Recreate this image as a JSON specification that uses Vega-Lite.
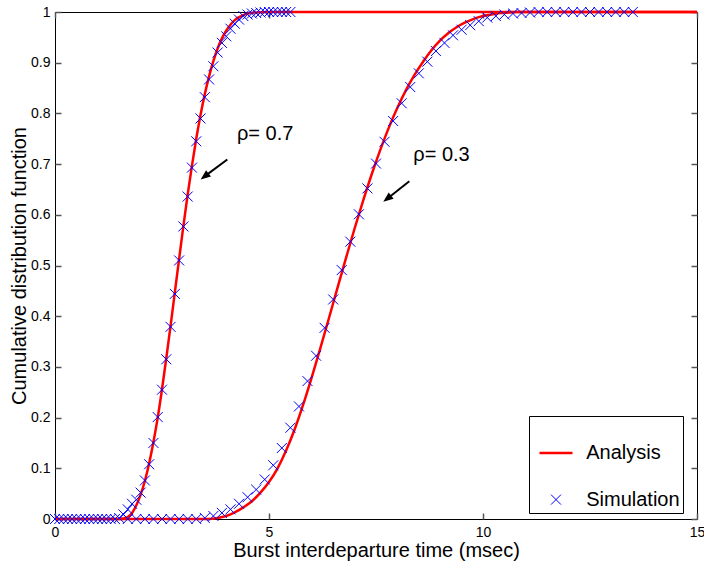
{
  "$schema": "https://vega.github.io/schema/vega-lite/v6.json",
  "width": 642,
  "height": 507,
  "autosize": {"type": "none"},
  "padding": {"left": 55, "top": 12, "right": 7, "bottom": 48},
  "config": {
    "font": "Liberation Sans",
    "view": {"stroke": "black", "strokeWidth": 1},
    "axis": {
      "grid": false,
      "domain": false,
      "tickColor": "#555555",
      "tickSize": 6,
      "offset": -6,
      "tickWidth": 1.5,
      "labelFlush": false,
      "labelColor": "black",
      "titleColor": "black",
      "labelFontSize": 14,
      "titleFontSize": 20,
      "titleFontWeight": "normal",
      "labelFont": "Liberation Sans",
      "titleFont": "Liberation Sans"
    }
  },
  "datasets": {
    "curves": [
      {"kind": "Analysis", "rho": "0.7", "x": 0, "y": 0},
      {"kind": "Analysis", "rho": "0.7", "x": 1.5, "y": 0},
      {"kind": "Analysis", "rho": "0.7", "x": 1.6, "y": 0.001},
      {"kind": "Analysis", "rho": "0.7", "x": 1.7, "y": 0.004},
      {"kind": "Analysis", "rho": "0.7", "x": 1.8, "y": 0.012},
      {"kind": "Analysis", "rho": "0.7", "x": 1.9, "y": 0.027},
      {"kind": "Analysis", "rho": "0.7", "x": 2.0, "y": 0.048},
      {"kind": "Analysis", "rho": "0.7", "x": 2.1, "y": 0.075},
      {"kind": "Analysis", "rho": "0.7", "x": 2.2, "y": 0.11},
      {"kind": "Analysis", "rho": "0.7", "x": 2.3, "y": 0.152},
      {"kind": "Analysis", "rho": "0.7", "x": 2.4, "y": 0.2},
      {"kind": "Analysis", "rho": "0.7", "x": 2.5, "y": 0.256},
      {"kind": "Analysis", "rho": "0.7", "x": 2.6, "y": 0.317},
      {"kind": "Analysis", "rho": "0.7", "x": 2.7, "y": 0.381},
      {"kind": "Analysis", "rho": "0.7", "x": 2.8, "y": 0.447},
      {"kind": "Analysis", "rho": "0.7", "x": 2.9, "y": 0.513},
      {"kind": "Analysis", "rho": "0.7", "x": 3.0, "y": 0.578},
      {"kind": "Analysis", "rho": "0.7", "x": 3.1, "y": 0.64},
      {"kind": "Analysis", "rho": "0.7", "x": 3.2, "y": 0.697},
      {"kind": "Analysis", "rho": "0.7", "x": 3.3, "y": 0.75},
      {"kind": "Analysis", "rho": "0.7", "x": 3.4, "y": 0.797},
      {"kind": "Analysis", "rho": "0.7", "x": 3.5, "y": 0.838},
      {"kind": "Analysis", "rho": "0.7", "x": 3.6, "y": 0.873},
      {"kind": "Analysis", "rho": "0.7", "x": 3.7, "y": 0.903},
      {"kind": "Analysis", "rho": "0.7", "x": 3.8, "y": 0.928},
      {"kind": "Analysis", "rho": "0.7", "x": 3.9, "y": 0.948},
      {"kind": "Analysis", "rho": "0.7", "x": 4.0, "y": 0.963},
      {"kind": "Analysis", "rho": "0.7", "x": 4.1, "y": 0.975},
      {"kind": "Analysis", "rho": "0.7", "x": 4.2, "y": 0.984},
      {"kind": "Analysis", "rho": "0.7", "x": 4.3, "y": 0.99},
      {"kind": "Analysis", "rho": "0.7", "x": 4.4, "y": 0.994},
      {"kind": "Analysis", "rho": "0.7", "x": 4.5, "y": 0.997},
      {"kind": "Analysis", "rho": "0.7", "x": 4.7, "y": 0.999},
      {"kind": "Analysis", "rho": "0.7", "x": 5.0, "y": 1},
      {"kind": "Analysis", "rho": "0.7", "x": 15, "y": 1},

      {"kind": "Analysis", "rho": "0.3", "x": 0, "y": 0},
      {"kind": "Analysis", "rho": "0.3", "x": 3.6, "y": 0},
      {"kind": "Analysis", "rho": "0.3", "x": 3.8, "y": 0.002},
      {"kind": "Analysis", "rho": "0.3", "x": 4.0, "y": 0.006},
      {"kind": "Analysis", "rho": "0.3", "x": 4.2, "y": 0.013},
      {"kind": "Analysis", "rho": "0.3", "x": 4.4, "y": 0.023},
      {"kind": "Analysis", "rho": "0.3", "x": 4.6, "y": 0.035},
      {"kind": "Analysis", "rho": "0.3", "x": 4.8, "y": 0.052},
      {"kind": "Analysis", "rho": "0.3", "x": 5.0, "y": 0.073},
      {"kind": "Analysis", "rho": "0.3", "x": 5.2, "y": 0.1},
      {"kind": "Analysis", "rho": "0.3", "x": 5.4, "y": 0.135},
      {"kind": "Analysis", "rho": "0.3", "x": 5.6, "y": 0.177},
      {"kind": "Analysis", "rho": "0.3", "x": 5.8, "y": 0.226},
      {"kind": "Analysis", "rho": "0.3", "x": 6.0, "y": 0.28},
      {"kind": "Analysis", "rho": "0.3", "x": 6.2, "y": 0.337},
      {"kind": "Analysis", "rho": "0.3", "x": 6.4, "y": 0.396},
      {"kind": "Analysis", "rho": "0.3", "x": 6.6, "y": 0.456},
      {"kind": "Analysis", "rho": "0.3", "x": 6.8, "y": 0.515},
      {"kind": "Analysis", "rho": "0.3", "x": 7.0, "y": 0.573},
      {"kind": "Analysis", "rho": "0.3", "x": 7.2, "y": 0.628},
      {"kind": "Analysis", "rho": "0.3", "x": 7.4, "y": 0.68},
      {"kind": "Analysis", "rho": "0.3", "x": 7.6, "y": 0.728},
      {"kind": "Analysis", "rho": "0.3", "x": 7.8, "y": 0.772},
      {"kind": "Analysis", "rho": "0.3", "x": 8.0, "y": 0.811},
      {"kind": "Analysis", "rho": "0.3", "x": 8.2, "y": 0.846},
      {"kind": "Analysis", "rho": "0.3", "x": 8.4, "y": 0.876},
      {"kind": "Analysis", "rho": "0.3", "x": 8.6, "y": 0.902},
      {"kind": "Analysis", "rho": "0.3", "x": 8.8, "y": 0.925},
      {"kind": "Analysis", "rho": "0.3", "x": 9.0, "y": 0.944},
      {"kind": "Analysis", "rho": "0.3", "x": 9.2, "y": 0.959},
      {"kind": "Analysis", "rho": "0.3", "x": 9.4, "y": 0.971},
      {"kind": "Analysis", "rho": "0.3", "x": 9.6, "y": 0.98},
      {"kind": "Analysis", "rho": "0.3", "x": 9.8, "y": 0.987},
      {"kind": "Analysis", "rho": "0.3", "x": 10.0, "y": 0.992},
      {"kind": "Analysis", "rho": "0.3", "x": 10.2, "y": 0.995},
      {"kind": "Analysis", "rho": "0.3", "x": 10.4, "y": 0.998},
      {"kind": "Analysis", "rho": "0.3", "x": 10.6, "y": 0.999},
      {"kind": "Analysis", "rho": "0.3", "x": 10.8, "y": 1},
      {"kind": "Analysis", "rho": "0.3", "x": 15, "y": 1},

      {"kind": "Simulation", "rho": "0.7", "x": 0.0, "y": 0},
      {"kind": "Simulation", "rho": "0.7", "x": 0.1, "y": 0},
      {"kind": "Simulation", "rho": "0.7", "x": 0.2, "y": 0},
      {"kind": "Simulation", "rho": "0.7", "x": 0.3, "y": 0},
      {"kind": "Simulation", "rho": "0.7", "x": 0.4, "y": 0},
      {"kind": "Simulation", "rho": "0.7", "x": 0.5, "y": 0},
      {"kind": "Simulation", "rho": "0.7", "x": 0.6, "y": 0},
      {"kind": "Simulation", "rho": "0.7", "x": 0.7, "y": 0},
      {"kind": "Simulation", "rho": "0.7", "x": 0.8, "y": 0},
      {"kind": "Simulation", "rho": "0.7", "x": 0.9, "y": 0},
      {"kind": "Simulation", "rho": "0.7", "x": 1.0, "y": 0},
      {"kind": "Simulation", "rho": "0.7", "x": 1.1, "y": 0},
      {"kind": "Simulation", "rho": "0.7", "x": 1.2, "y": 0},
      {"kind": "Simulation", "rho": "0.7", "x": 1.3, "y": 0},
      {"kind": "Simulation", "rho": "0.7", "x": 1.4, "y": 0},
      {"kind": "Simulation", "rho": "0.7", "x": 1.5, "y": 0.002},
      {"kind": "Simulation", "rho": "0.7", "x": 1.6, "y": 0.009},
      {"kind": "Simulation", "rho": "0.7", "x": 1.7, "y": 0.019},
      {"kind": "Simulation", "rho": "0.7", "x": 1.8, "y": 0.03},
      {"kind": "Simulation", "rho": "0.7", "x": 1.9, "y": 0.038},
      {"kind": "Simulation", "rho": "0.7", "x": 2.0, "y": 0.052},
      {"kind": "Simulation", "rho": "0.7", "x": 2.1, "y": 0.076},
      {"kind": "Simulation", "rho": "0.7", "x": 2.2, "y": 0.108},
      {"kind": "Simulation", "rho": "0.7", "x": 2.3, "y": 0.15},
      {"kind": "Simulation", "rho": "0.7", "x": 2.4, "y": 0.201},
      {"kind": "Simulation", "rho": "0.7", "x": 2.5, "y": 0.255},
      {"kind": "Simulation", "rho": "0.7", "x": 2.6, "y": 0.315},
      {"kind": "Simulation", "rho": "0.7", "x": 2.7, "y": 0.379},
      {"kind": "Simulation", "rho": "0.7", "x": 2.8, "y": 0.444},
      {"kind": "Simulation", "rho": "0.7", "x": 2.9, "y": 0.51},
      {"kind": "Simulation", "rho": "0.7", "x": 3.0, "y": 0.577},
      {"kind": "Simulation", "rho": "0.7", "x": 3.1, "y": 0.636},
      {"kind": "Simulation", "rho": "0.7", "x": 3.2, "y": 0.693},
      {"kind": "Simulation", "rho": "0.7", "x": 3.3, "y": 0.745},
      {"kind": "Simulation", "rho": "0.7", "x": 3.4, "y": 0.79},
      {"kind": "Simulation", "rho": "0.7", "x": 3.5, "y": 0.832},
      {"kind": "Simulation", "rho": "0.7", "x": 3.6, "y": 0.867},
      {"kind": "Simulation", "rho": "0.7", "x": 3.7, "y": 0.893},
      {"kind": "Simulation", "rho": "0.7", "x": 3.8, "y": 0.92},
      {"kind": "Simulation", "rho": "0.7", "x": 3.9, "y": 0.939},
      {"kind": "Simulation", "rho": "0.7", "x": 4.0, "y": 0.952},
      {"kind": "Simulation", "rho": "0.7", "x": 4.1, "y": 0.967},
      {"kind": "Simulation", "rho": "0.7", "x": 4.2, "y": 0.977},
      {"kind": "Simulation", "rho": "0.7", "x": 4.3, "y": 0.985},
      {"kind": "Simulation", "rho": "0.7", "x": 4.4, "y": 0.992},
      {"kind": "Simulation", "rho": "0.7", "x": 4.5, "y": 0.995},
      {"kind": "Simulation", "rho": "0.7", "x": 4.6, "y": 0.997},
      {"kind": "Simulation", "rho": "0.7", "x": 4.7, "y": 0.998},
      {"kind": "Simulation", "rho": "0.7", "x": 4.8, "y": 0.999},
      {"kind": "Simulation", "rho": "0.7", "x": 4.9, "y": 1},
      {"kind": "Simulation", "rho": "0.7", "x": 5.0, "y": 1},
      {"kind": "Simulation", "rho": "0.7", "x": 5.1, "y": 1},
      {"kind": "Simulation", "rho": "0.7", "x": 5.2, "y": 1},
      {"kind": "Simulation", "rho": "0.7", "x": 5.3, "y": 1},
      {"kind": "Simulation", "rho": "0.7", "x": 5.4, "y": 1},
      {"kind": "Simulation", "rho": "0.7", "x": 5.5, "y": 1},

      {"kind": "Simulation", "rho": "0.3", "x": 1.7, "y": 0},
      {"kind": "Simulation", "rho": "0.3", "x": 1.9, "y": 0},
      {"kind": "Simulation", "rho": "0.3", "x": 2.1, "y": 0},
      {"kind": "Simulation", "rho": "0.3", "x": 2.3, "y": 0},
      {"kind": "Simulation", "rho": "0.3", "x": 2.5, "y": 0},
      {"kind": "Simulation", "rho": "0.3", "x": 2.7, "y": 0},
      {"kind": "Simulation", "rho": "0.3", "x": 2.9, "y": 0},
      {"kind": "Simulation", "rho": "0.3", "x": 3.1, "y": 0},
      {"kind": "Simulation", "rho": "0.3", "x": 3.3, "y": 0},
      {"kind": "Simulation", "rho": "0.3", "x": 3.5, "y": 0.002},
      {"kind": "Simulation", "rho": "0.3", "x": 3.7, "y": 0.006},
      {"kind": "Simulation", "rho": "0.3", "x": 3.9, "y": 0.012},
      {"kind": "Simulation", "rho": "0.3", "x": 4.1, "y": 0.019},
      {"kind": "Simulation", "rho": "0.3", "x": 4.3, "y": 0.03},
      {"kind": "Simulation", "rho": "0.3", "x": 4.5, "y": 0.043},
      {"kind": "Simulation", "rho": "0.3", "x": 4.7, "y": 0.058},
      {"kind": "Simulation", "rho": "0.3", "x": 4.9, "y": 0.078},
      {"kind": "Simulation", "rho": "0.3", "x": 5.1, "y": 0.106},
      {"kind": "Simulation", "rho": "0.3", "x": 5.3, "y": 0.14},
      {"kind": "Simulation", "rho": "0.3", "x": 5.5, "y": 0.18},
      {"kind": "Simulation", "rho": "0.3", "x": 5.7, "y": 0.222},
      {"kind": "Simulation", "rho": "0.3", "x": 5.9, "y": 0.272},
      {"kind": "Simulation", "rho": "0.3", "x": 6.1, "y": 0.322},
      {"kind": "Simulation", "rho": "0.3", "x": 6.3, "y": 0.377},
      {"kind": "Simulation", "rho": "0.3", "x": 6.5, "y": 0.433},
      {"kind": "Simulation", "rho": "0.3", "x": 6.7, "y": 0.491},
      {"kind": "Simulation", "rho": "0.3", "x": 6.9, "y": 0.547},
      {"kind": "Simulation", "rho": "0.3", "x": 7.1, "y": 0.601},
      {"kind": "Simulation", "rho": "0.3", "x": 7.3, "y": 0.652},
      {"kind": "Simulation", "rho": "0.3", "x": 7.5, "y": 0.701},
      {"kind": "Simulation", "rho": "0.3", "x": 7.7, "y": 0.744},
      {"kind": "Simulation", "rho": "0.3", "x": 7.9, "y": 0.785},
      {"kind": "Simulation", "rho": "0.3", "x": 8.1, "y": 0.82},
      {"kind": "Simulation", "rho": "0.3", "x": 8.3, "y": 0.852},
      {"kind": "Simulation", "rho": "0.3", "x": 8.5, "y": 0.879},
      {"kind": "Simulation", "rho": "0.3", "x": 8.7, "y": 0.902},
      {"kind": "Simulation", "rho": "0.3", "x": 8.9, "y": 0.923},
      {"kind": "Simulation", "rho": "0.3", "x": 9.1, "y": 0.939},
      {"kind": "Simulation", "rho": "0.3", "x": 9.3, "y": 0.954},
      {"kind": "Simulation", "rho": "0.3", "x": 9.5, "y": 0.965},
      {"kind": "Simulation", "rho": "0.3", "x": 9.7, "y": 0.974},
      {"kind": "Simulation", "rho": "0.3", "x": 9.9, "y": 0.982},
      {"kind": "Simulation", "rho": "0.3", "x": 10.1, "y": 0.989},
      {"kind": "Simulation", "rho": "0.3", "x": 10.3, "y": 0.992},
      {"kind": "Simulation", "rho": "0.3", "x": 10.5, "y": 0.995},
      {"kind": "Simulation", "rho": "0.3", "x": 10.7, "y": 0.997},
      {"kind": "Simulation", "rho": "0.3", "x": 10.9, "y": 0.998},
      {"kind": "Simulation", "rho": "0.3", "x": 11.1, "y": 0.999},
      {"kind": "Simulation", "rho": "0.3", "x": 11.3, "y": 1},
      {"kind": "Simulation", "rho": "0.3", "x": 11.5, "y": 1},
      {"kind": "Simulation", "rho": "0.3", "x": 11.7, "y": 1},
      {"kind": "Simulation", "rho": "0.3", "x": 11.9, "y": 1},
      {"kind": "Simulation", "rho": "0.3", "x": 12.1, "y": 1},
      {"kind": "Simulation", "rho": "0.3", "x": 12.3, "y": 1},
      {"kind": "Simulation", "rho": "0.3", "x": 12.5, "y": 1},
      {"kind": "Simulation", "rho": "0.3", "x": 12.7, "y": 1},
      {"kind": "Simulation", "rho": "0.3", "x": 12.9, "y": 1},
      {"kind": "Simulation", "rho": "0.3", "x": 13.1, "y": 1},
      {"kind": "Simulation", "rho": "0.3", "x": 13.3, "y": 1},
      {"kind": "Simulation", "rho": "0.3", "x": 13.5, "y": 1}
    ],
    "notes": [
      {"x": 4.252, "y": 0.747, "text": "ρ= 0.7"},
      {"x": 8.372, "y": 0.7057, "text": "ρ= 0.3"}
    ],
    "arrows": [
      {"x": 4.026, "y": 0.709, "x2": 3.495, "y2": 0.6757},
      {"x": 8.278, "y": 0.6663, "x2": 7.762, "y2": 0.6318}
    ]
  },
  "resolve": {"axis": {"x": "independent", "y": "independent"}},
  "layer": [
    {
      "data": {"name": "curves"},
      "transform": [{"filter": "datum.kind === 'Analysis'"}],
      "mark": {"type": "line", "strokeWidth": 2.5, "interpolate": "monotone"},
      "encoding": {
        "x": {
          "field": "x", "type": "quantitative",
          "scale": {"domain": [0, 15], "nice": false, "zero": false},
          "axis": {"orient": "bottom", "values": [0, 5, 10, 15], "title": "Burst interdeparture time (msec)", "labelPadding": 6, "titlePadding": 1}
        },
        "y": {
          "field": "y", "type": "quantitative",
          "scale": {"domain": [0, 1], "nice": false},
          "axis": {"orient": "left", "values": [0, 0.1, 0.2, 0.3, 0.4, 0.5, 0.6, 0.7, 0.8, 0.9, 1], "format": "~g", "title": "Cumulative distribution function", "labelPadding": 5, "titlePadding": 1}
        },
        "color": {
          "field": "kind", "type": "nominal",
          "scale": {"domain": ["Analysis", "Simulation"], "range": ["#ff0000", "#0000ff"]},
          "legend": {
            "orient": "none",
            "legendX": 474,
            "legendY": 404,
            "title": " ",
            "titleFontSize": 14,
            "titlePadding": 10,
            "strokeColor": "black",
            "fillColor": "white",
            "padding": 3,
            "labelFontSize": 20,
            "labelFont": "Liberation Sans",
            "labelColor": "black",
            "symbolSize": 100,
            "symbolOffset": 14,
            "labelOffset": 20.2,
            "rowPadding": 26.6,
            "labelExpr": "datum.label + '\u2002\u2002'",
            "encode": {
              "symbols": {
                "update": {
                  "shape": {"signal": "datum.value === 'Analysis' ? 'M-3.3,0L3.3,0' : 'M-1,-1L1,1M-1,1L1,-1'"},
                  "strokeWidth": {"signal": "datum.value === 'Analysis' ? 2.5 : 1"},
                  "stroke": {"signal": "datum.value === 'Analysis' ? '#ff0000' : '#0000ff'"},
                  "fill": {"value": "transparent"},
                  "opacity": {"value": 1},
                  "size": {"value": 100}
                }
              }
            }
          }
        },
        "detail": {"field": "rho"}
      }
    },
    {
      "data": {"name": "curves"},
      "transform": [{"filter": "datum.kind === 'Simulation'"}],
      "mark": {"type": "point", "shape": "M-1,-1L1,1M-1,1L1,-1", "size": 100, "filled": false, "strokeWidth": 1, "opacity": 1},
      "encoding": {
        "x": {"field": "x", "type": "quantitative", "axis": {"orient": "top", "values": [0, 5, 10, 15], "labels": false, "title": null}},
        "y": {"field": "y", "type": "quantitative", "axis": {"orient": "right", "values": [0, 0.1, 0.2, 0.3, 0.4, 0.5, 0.6, 0.7, 0.8, 0.9, 1], "labels": false, "title": null}},
        "color": {"field": "kind", "type": "nominal"},
        "detail": {"field": "rho"}
      }
    },
    {
      "data": {"name": "arrows"},
      "mark": {"type": "rule", "strokeWidth": 2, "color": "black"},
      "encoding": {
        "x": {"field": "x", "type": "quantitative", "axis": null},
        "y": {"field": "y", "type": "quantitative", "axis": null},
        "x2": {"field": "x2"},
        "y2": {"field": "y2"}
      }
    },
    {
      "data": {"name": "arrows"},
      "mark": {"type": "point", "shape": "M0,-1L-0.8,1L0.8,1Z", "size": 100, "angle": 232, "filled": true, "color": "black", "opacity": 1},
      "encoding": {
        "x": {"field": "x2", "type": "quantitative", "axis": null},
        "y": {"field": "y2", "type": "quantitative", "axis": null}
      }
    },
    {
      "data": {"name": "notes"},
      "mark": {"type": "text", "align": "left", "baseline": "alphabetic", "fontSize": 20, "font": "Liberation Sans", "color": "black"},
      "encoding": {
        "x": {"field": "x", "type": "quantitative", "axis": null},
        "y": {"field": "y", "type": "quantitative", "axis": null},
        "text": {"field": "text"}
      }
    }
  ]
}
